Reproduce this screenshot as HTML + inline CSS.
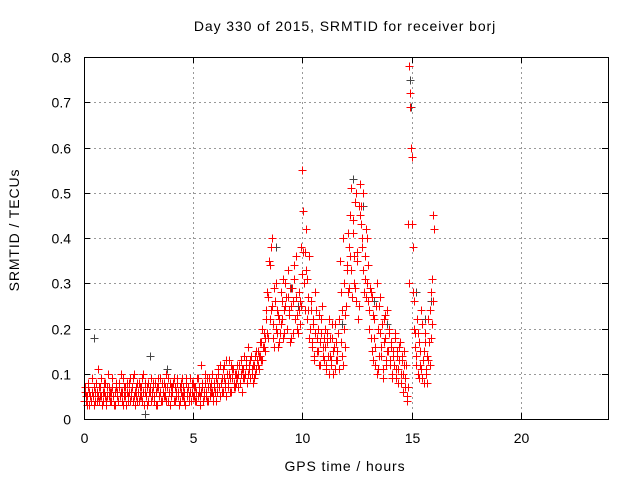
<!DOCTYPE html>
<html><head><meta charset="utf-8"><style>
body{margin:0;background:#fff}
svg{display:block;font-family:"Liberation Sans",sans-serif}
#marks path{shape-rendering:crispEdges}
</style></head><body>
<svg id="chart" width="640" height="480">
<text x="345" y="31" font-size="14" letter-spacing="0.9" text-anchor="middle">Day 330 of 2015, SRMTID for receiver borj</text>
<text x="345" y="471" font-size="14" letter-spacing="0.9" text-anchor="middle">GPS time / hours</text>
<text transform="translate(19,230) rotate(-90)" font-size="14" letter-spacing="0.9" text-anchor="middle">SRMTID / TECUs</text>
<g id="grid"></g><g id="ticks"></g><g id="marks"></g>
<rect x="84.5" y="57.5" width="524" height="362" fill="none" stroke="#000" stroke-width="1"/>
</svg>
<script>
const xTicks=[0,5,10,15,20];
const yTicks=[0,0.1,0.2,0.3,0.4,0.5,0.6,0.7,0.8];
const yTickLabels=["0","0.1","0.2","0.3","0.4","0.5","0.6","0.7","0.8"];
// SRMTID values in units of 0.01 TECU, sampled every 0.05 h starting at seriesStart
const sampleStep=0.05;
const seriesAStart=0.0;
const seriesA=[4,7,5,3,8,6,4,9,5,3,6,8,4,11,7,5,9,4,6,8,
3,5,10,7,4,6,9,5,3,7,6,4,8,5,10,6,3,7,5,8,
4,6,9,5,7,4,10,6,5,8,4,7,5,9,6,3,8,5,7,4,
6,9,5,7,4,8,6,3,7,5,9,4,6,8,5,10,7,4,6,8,
5,7,9,4,6,8,5,3,7,6,9,5,4,8,6,7,5,9,4,6,
8,5,7,4,9,6,5,12,7,4,6,8,5,9,4,7,6,10,5,8,
6,4,8,11,7,5,9,6,12,8,5,10,7,13,9,6,11,8,7,10,
9,7,12,8,10,6,11,9,13,8,10,12,9,14,11,8,12,10,15,12,
11,14,17,13,16,19,15,22,28,18,34,24,40,21,16,26,30,19,23,17,
28,22,31,19,25,27,20,33,24,29,18,26,31,22,36,23,19,28,21,25,
55,46,37,42,31,24,36,20,26,17,22,14,28,18,15,23,12,19,25,16,
13,20,11,17,22,14,12,18,10,16,21,13,15,19,11,17,14,12,20,16,
25,33,41,29,36,51,44,30,48,26,35,22,47,52,43,38,50,31,27,40,
34,24,29,18,27,13,22,16,30,11,25,19,14,21,9,17,23,12,15,19,
13,17,10,15,12,18,9,14,11,16,8,13,10,15,7,12,5,43,78,72,
58,38,26,19,14,22,10,17,12,24,9,15,19,11,8,13,17,24,28,21,
45];
const seriesBStart=0.025;
const seriesB=[6,4,5,7,3,5,4,6,5,7,4,6,5,4,7,5,3,6,8,5,
4,7,5,6,4,7,5,3,6,8,5,4,7,6,4,9,5,7,3,6,
5,8,4,6,9,5,3,7,4,6,8,5,7,4,10,6,5,3,8,6,
7,4,6,8,5,3,7,9,5,6,4,8,6,5,7,4,9,6,3,7,
6,8,4,7,5,9,6,4,8,5,7,6,3,9,5,7,4,6,8,5,
7,4,6,9,5,7,3,6,8,5,10,6,4,7,9,5,8,6,4,7,
9,6,10,7,12,8,6,11,9,7,13,8,10,6,12,9,11,7,10,8,
12,10,8,13,11,9,14,10,12,8,16,11,13,10,12,9,14,11,13,15,
14,17,13,20,16,18,24,19,27,35,22,38,25,18,29,20,24,16,22,19,
21,26,18,24,30,20,27,23,17,25,29,19,34,22,27,20,24,26,38,32,
37,30,24,33,22,27,18,24,16,21,13,19,24,15,20,12,17,22,14,18,
16,12,19,14,10,18,13,21,15,11,17,13,19,22,35,28,24,40,30,23,
34,28,38,45,33,27,41,36,29,50,37,25,45,47,40,33,28,36,42,30,
26,20,28,15,23,18,12,25,10,20,14,27,16,11,22,18,13,24,15,20,
12,16,9,14,19,11,15,8,13,17,10,14,6,12,9,4,7,30,69,60,
43,28,20,16,12,19,9,15,11,21,13,8,17,10,14,22,12,18,31,26,
42];
const greyTimes=[0.45,2.8,3.0,3.8,8.8,9.5,9.8,10.4,11.8,12.3,12.8,13.3,13.9,14.95,14.97,15.2,15.6,15.9];
const greyValues=[0.18,0.01,0.14,0.11,0.38,0.29,0.25,0.24,0.21,0.53,0.47,0.26,0.21,0.75,0.69,0.28,0.22,0.26];
const X0=84,X1=608,Y0=419,Y1=57;
const xs=t=>X0+t/24*(X1-X0);
const ys=v=>Y0-v/0.8*(Y0-Y1);
const NS="http://www.w3.org/2000/svg";
const grid=document.getElementById('grid'),ticks=document.getElementById('ticks'),marks=document.getElementById('marks');
function line(p,x1,y1,x2,y2,st,dash){const l=document.createElementNS(NS,'line');l.setAttribute('x1',x1);l.setAttribute('y1',y1);l.setAttribute('x2',x2);l.setAttribute('y2',y2);l.setAttribute('stroke',st);if(dash)l.setAttribute('stroke-dasharray',dash);p.appendChild(l);return l;}
xTicks.forEach(t=>{const x=Math.round(xs(t))+0.5;
 if(t>0){const g=line(grid,x,Y1,x,Y0,'#999','2,3');
 
 }
 line(ticks,x,Y0,x,Y0-6,'#000');line(ticks,x,Y1,x,Y1+6,'#000');
 const tx=document.createElementNS(NS,'text');tx.setAttribute('x',x);tx.setAttribute('y',443);tx.setAttribute('font-size','14');tx.setAttribute('text-anchor','middle');tx.textContent=t;
 
 
 ticks.appendChild(tx);});
yTicks.forEach((v,i)=>{const y=Math.round(ys(v))+0.5;
 if(v>0&&v<0.8){const g=line(grid,X0,y,X1,y,'#999','2,3');
 
 }
 line(ticks,X0,y,X0+6,y,'#000');line(ticks,X1,y,X1-6,y,'#000');
 const tx=document.createElementNS(NS,'text');tx.setAttribute('x',71);tx.setAttribute('y',y+5);tx.setAttribute('font-size','14');tx.setAttribute('text-anchor','end');tx.textContent=yTickLabels[i];
 
 
 ticks.appendChild(tx);});
function cross(t,v,col,name){const x=Math.round(xs(t))+0.5,y=Math.round(ys(v))+0.5;
 const p=document.createElementNS(NS,'path');p.setAttribute('d',`M${x-4} ${y}H${x+4}M${x} ${y-4}V${y+4}`);p.setAttribute('stroke',col);p.setAttribute('fill','none');
 
 
 marks.appendChild(p);}
greyTimes.forEach((t,i)=>cross(t,greyValues[i],'#444','grey-point'));
seriesA.forEach((v,i)=>cross(seriesAStart+i*sampleStep,v/100,'#f00','red-point'));
seriesB.forEach((v,i)=>cross(seriesBStart+i*sampleStep,v/100,'#f00','red-point'));
</script>
</body></html>
